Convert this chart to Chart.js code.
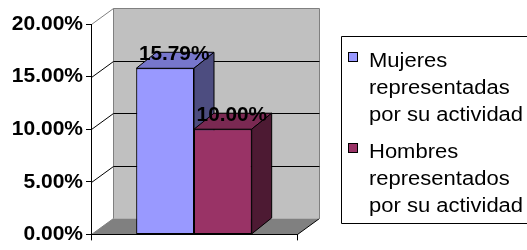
<!DOCTYPE html>
<html>
<head>
<meta charset="utf-8">
<script src="https://cdn.jsdelivr.net/npm/chart.js@4"></script>
<style>
  html, body { margin: 0; padding: 0; background: #fff; overflow: hidden; }
  #wrap { width: 527px; height: 250px; overflow: hidden; }
  #chart { display: block; }
</style>
</head>
<body>
<div id="wrap"><canvas id="chart" width="527" height="250"></canvas></div>
<script>
// data
const categories = [''];
const seriesNames = [
  ['Mujeres', 'representadas', 'por su actividad'],
  ['Hombres', 'representados', 'por su actividad']
];
const mujeres = [15.79];
const hombres = [10.00];
const yTicks = [0, 5, 10, 15, 20];

// look
const FONT = 'Arial, "Liberation Sans", sans-serif';
const frontColors = ['#9999FF', '#993366'];
const topColors = ['#7777CC', '#7A2952'];
const sideColors = ['#4D4D80', '#4D1A33'];
const DX = 22, DY = -16;   // wall depth
const BDX = 20, BDY = -16; // bar depth

function poly(ctx, pts, fill, stroke) {
  ctx.beginPath();
  ctx.moveTo(pts[0][0], pts[0][1]);
  for (let i = 1; i < pts.length; i++) ctx.lineTo(pts[i][0], pts[i][1]);
  ctx.closePath();
  if (fill) { ctx.fillStyle = fill; ctx.fill(); }
  if (stroke) { ctx.strokeStyle = stroke; ctx.stroke(); }
}

function line(ctx, pts, color) {
  ctx.beginPath();
  ctx.moveTo(pts[0][0], pts[0][1]);
  for (let i = 1; i < pts.length; i++) ctx.lineTo(pts[i][0], pts[i][1]);
  ctx.strokeStyle = color;
  ctx.stroke();
}

// text a little wider than the font, like the original
function wideText(ctx, txt, x, y, sx) {
  ctx.save();
  ctx.translate(x, y);
  ctx.scale(sx, 1);
  ctx.fillText(txt, 0, 0);
  ctx.restore();
}

// back wall, floor and gridlines behind the bars
const wall3d = {
  id: 'wall3d',
  beforeDraw(chart) {
    const { ctx, chartArea: a, scales: { y } } = chart;
    const L = Math.round(a.left) + 0.5, R = Math.round(a.right) + 0.5;
    const T = Math.round(a.top) + 0.5, B = Math.round(a.bottom) + 0.5;
    ctx.save();
    ctx.lineWidth = 1;
    // floor
    poly(ctx, [[L, B], [R, B], [R + DX, B + DY], [L + DX, B + DY]], '#808080');
    line(ctx, [[L + DX, B + DY], [R + DX, B + DY]], '#A0A0A0');
    line(ctx, [[L, B], [L + DX, B + DY]], '#808080');
    line(ctx, [[R, B], [R + DX, B + DY]], '#000');
    // back wall
    ctx.fillStyle = '#C0C0C0';
    ctx.fillRect(L + DX, T + DY, R - L, B - T);
    line(ctx, [[L, T], [L + DX, T + DY], [R + DX, T + DY], [R + DX, B + DY]], '#808080');
    line(ctx, [[L + DX, T + DY], [L + DX, B + DY]], '#808080');
    // gridlines
    yTicks.forEach(v => {
      if (v === yTicks[0] || v === yTicks[yTicks.length - 1]) return;
      const py = Math.round(y.getPixelForValue(v)) + 0.5;
      line(ctx, [[L, py], [L + DX, py + DY], [R + DX, py + DY]], '#000');
    });
    ctx.restore();
  }
};

// top and side faces of the bars, plus value labels
const bars3d = {
  id: 'bars3d',
  afterDatasetsDraw(chart) {
    const ctx = chart.ctx;
    ctx.save();
    ctx.lineWidth = 1;
    chart.data.datasets.forEach((ds, i) => {
      chart.getDatasetMeta(i).data.forEach(bar => {
        const l = bar.x - bar.width / 2, r = bar.x + bar.width / 2;
        const t = bar.y, b = bar.base;
        bar.draw(ctx);
        poly(ctx, [[l, t], [r, t], [r + BDX, t + BDY], [l + BDX, t + BDY]], topColors[i], '#000');
        poly(ctx, [[r, t], [r + BDX, t + BDY], [r + BDX, b + BDY], [r, b]], sideColors[i], '#000');
      });
    });
    ctx.font = 'bold 20px ' + FONT;
    ctx.fillStyle = '#000';
    ctx.textAlign = 'center';
    ctx.textBaseline = 'alphabetic';
    chart.data.datasets.forEach((ds, i) => {
      chart.getDatasetMeta(i).data.forEach((bar, j) => {
        wideText(ctx, ds.data[j].toFixed(2) + '%', bar.x + 9, bar.y - 8, 1.04);
      });
    });
    ctx.restore();
  }
};

// boxed legend with wrapped names
const boxLegend = {
  id: 'boxLegend',
  afterDraw(chart) {
    const { ctx, chartArea: a } = chart;
    const x0 = Math.round(a.right) + 44;
    ctx.save();
    ctx.lineWidth = 1;
    ctx.strokeStyle = '#000';
    line(ctx, [[chart.width + 5, 36.5], [x0 + 0.5, 36.5], [x0 + 0.5, 223.5], [chart.width + 5, 223.5]], '#000');
    ctx.font = '20px ' + FONT;
    ctx.textAlign = 'left';
    ctx.textBaseline = 'alphabetic';
    chart.data.datasets.forEach((ds, i) => {
      const base = 67 + i * 91;
      ctx.fillStyle = frontColors[i];
      ctx.fillRect(x0 + 7.5, base - 14.5, 9, 9);
      ctx.strokeRect(x0 + 7.5, base - 14.5, 9, 9);
      ctx.fillStyle = '#000';
      seriesNames[i].forEach((txt, k) => wideText(ctx, txt, x0 + 28, base + k * 27, 1.1));
    });
    ctx.restore();
  }
};

new Chart(document.getElementById('chart'), {
  type: 'bar',
  data: {
    labels: categories,
    datasets: [
      { label: seriesNames[0].join(' '), data: mujeres, backgroundColor: frontColors[0] },
      { label: seriesNames[1].join(' '), data: hombres, backgroundColor: frontColors[1] }
    ]
  },
  options: {
    responsive: false,
    animation: false,
    layout: { padding: { left: 0, right: 230, top: 24, bottom: 0 } },
    datasets: {
      bar: {
        borderColor: '#000',
        borderWidth: 1,
        borderSkipped: false,
        categoryPercentage: 0.56,
        barPercentage: 1.0
      }
    },
    plugins: {
      legend: { display: false },
      tooltip: { enabled: false }
    },
    scales: {
      x: {
        ticks: { display: false },
        grid: { drawOnChartArea: false, tickLength: 6, color: '#000' },
        border: { color: '#000' },
        afterFit(scale) { scale.height = 15; }
      },
      y: {
        min: yTicks[0],
        max: yTicks[yTicks.length - 1],
        ticks: {
          stepSize: yTicks[1] - yTicks[0],
          padding: 3,
          color: '#000',
          font: { family: FONT, size: 21, weight: 'bold' },
          callback: v => v.toFixed(2) + '%'
        },
        grid: { drawOnChartArea: false, tickLength: 5, color: '#000' },
        border: { color: '#000' },
        afterFit(scale) { scale.width = 91; }
      }
    }
  },
  plugins: [wall3d, bars3d, boxLegend]
});
</script>
</body>
</html>
